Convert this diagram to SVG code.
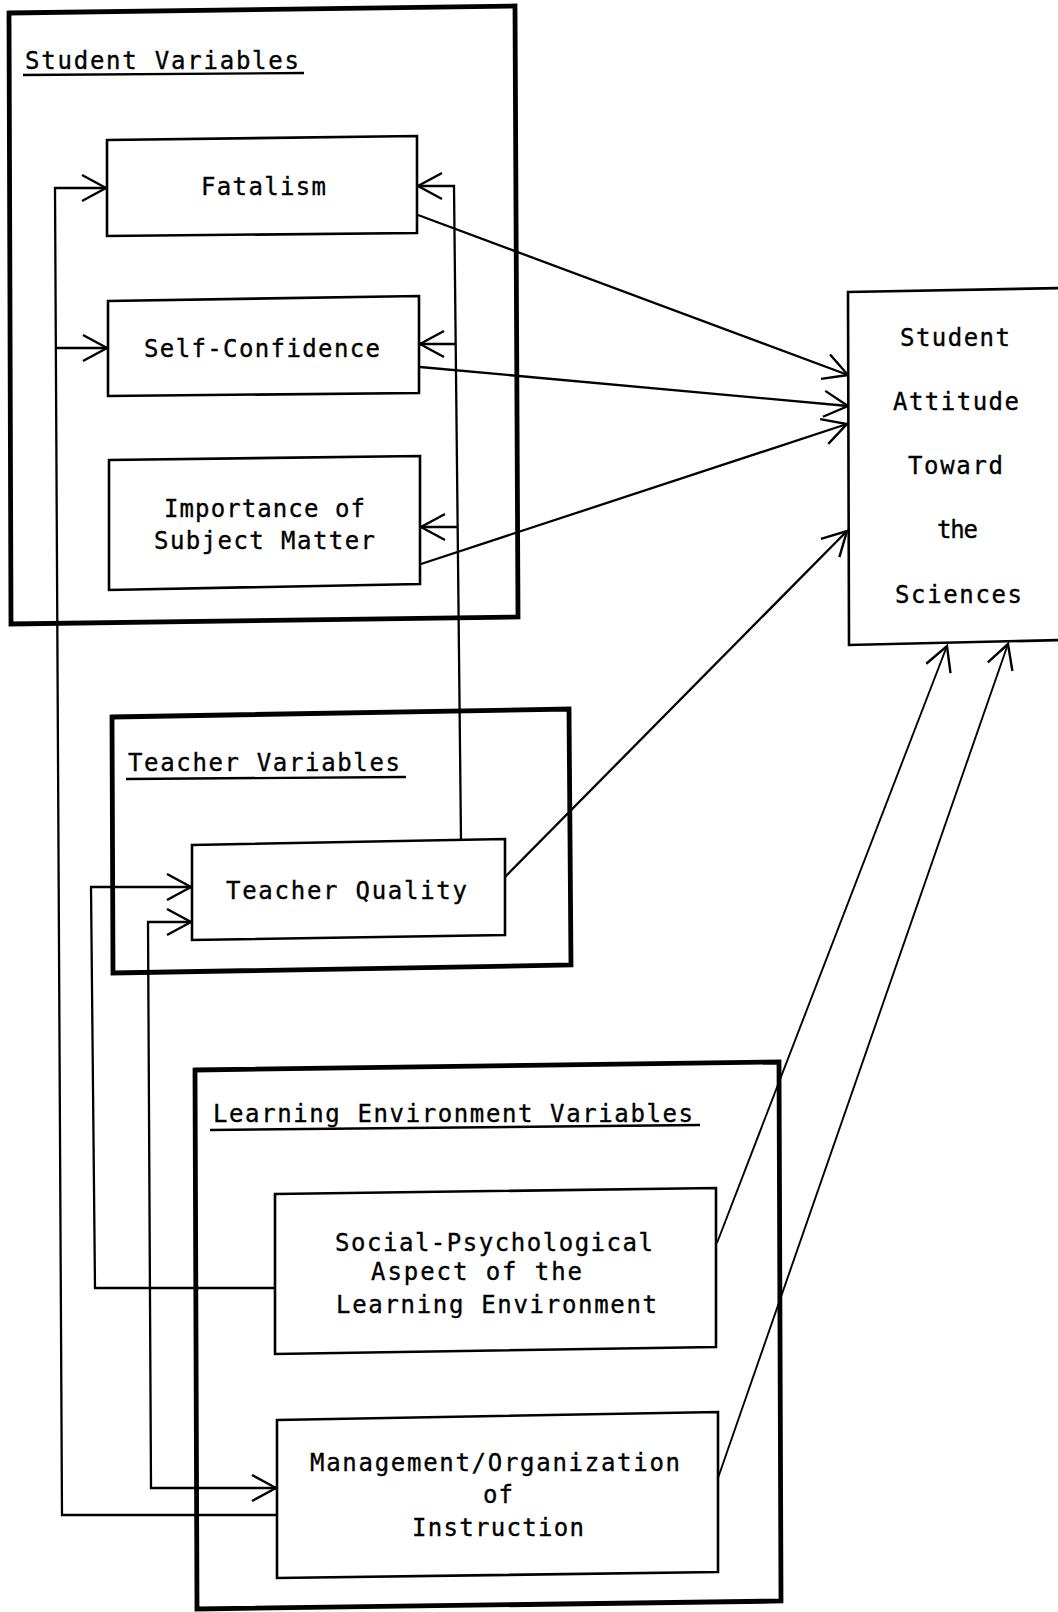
<svg xmlns="http://www.w3.org/2000/svg" width="1058" height="1612" viewBox="0 0 1058 1612">
<style>
  .bg{fill:#ffffff}
  .grp{fill:none;stroke:#000;stroke-width:4.8;stroke-linejoin:miter}
  .box{fill:#ffffff;stroke:#000;stroke-width:2.6}
  .ul{fill:none;stroke:#000;stroke-width:2.4}
  .con{fill:none;stroke:#000;stroke-width:2.3}
  .thin{fill:none;stroke:#000;stroke-width:1.9}
  text{font-family:"DejaVu Sans Mono","Liberation Mono",monospace;font-size:24px;fill:#000;stroke:#000;stroke-width:0.35}
</style>
<defs>
  <marker id="arr" markerUnits="userSpaceOnUse" viewBox="-30 -20 40 40" markerWidth="40" markerHeight="40" refX="0" refY="0" orient="auto" overflow="visible">
    <path d="M-24,-13 L0,0 L-24,13" fill="none" stroke="#000" stroke-width="2.4"/>
  </marker>
  <marker id="arrs" markerUnits="userSpaceOnUse" viewBox="-30 -20 40 40" markerWidth="40" markerHeight="40" refX="0" refY="0" orient="auto-start-reverse" overflow="visible">
    <path d="M-24,-13 L0,0 L-24,13" fill="none" stroke="#000" stroke-width="2.4"/>
  </marker>
</defs>
<rect class="bg" x="0" y="0" width="1058" height="1612"/>

<!-- group containers -->
<g id="group-student-variables">
  <polygon class="grp" points="9,13 515,6 518,617 11,624"/>
  <text x="25" y="69" textLength="274" lengthAdjust="spacing">Student Variables</text>
  <path class="ul" d="M23,75 L304,73"/>
</g>
<g id="group-teacher-variables">
  <polygon class="grp" points="112,717 569,709 571,965 113,973"/>
  <text x="128" y="771" textLength="272" lengthAdjust="spacing">Teacher Variables</text>
  <path class="ul" d="M126,779 L406,777"/>
</g>
<g id="group-learning-environment-variables">
  <polygon class="grp" points="195,1070 779,1062 781,1601 197,1609"/>
  <text x="213" y="1122" textLength="480" lengthAdjust="spacing">Learning Environment Variables</text>
  <path class="ul" d="M210,1130 L700,1125"/>
</g>

<!-- connectors -->
<g id="connectors">
  <!-- Management/Organization -> Fatalism, Self-Confidence (left loop) -->
  <path class="con" d="M277,1515 L62,1515 L55,188 L106,188" marker-end="url(#arr)"/>
  <path class="con" d="M56,348 L107,348" marker-end="url(#arr)"/>
  <!-- Teacher Quality -> Fatalism, Self-Confidence, Importance (right loop) -->
  <path class="con" d="M461,841 L454,186 L418,186" marker-end="url(#arr)"/>
  <path class="con" d="M455,344 L420,344" marker-end="url(#arr)"/>
  <path class="con" d="M457,527 L421,527" marker-end="url(#arr)"/>
  <!-- Social-Psychological -> Teacher Quality -->
  <path class="con" d="M275,1288 L95,1288 L91,887 L191,887" marker-end="url(#arr)"/>
  <!-- Teacher Quality <-> Management/Organization -->
  <path class="con" d="M191,922 L148,922 L151,1488 L276,1488" marker-start="url(#arrs)" marker-end="url(#arr)"/>
  <!-- to Student Attitude Toward the Sciences -->
  <path class="con" d="M418,215 L848,375" marker-end="url(#arr)"/>
  <path class="con" d="M420,367 L848,406" marker-end="url(#arr)"/>
  <path class="con" d="M421,564 L847,424" marker-end="url(#arr)"/>
  <path class="con" d="M505,877 L847,531" marker-end="url(#arr)"/>
  <path class="thin" d="M717,1243 L947,646" marker-end="url(#arr)"/>
  <path class="thin" d="M718,1478 L1008,644" marker-end="url(#arr)"/>
</g>

<!-- nodes -->
<g id="node-fatalism">
  <polygon class="box" points="107,140 417,136 417,233 107,236"/>
  <text x="201" y="195" textLength="125" lengthAdjust="spacing">Fatalism</text>
</g>
<g id="node-self-confidence">
  <polygon class="box" points="108,301 419,296 419,393 108,396"/>
  <text x="144" y="357" textLength="236" lengthAdjust="spacing">Self-Confidence</text>
</g>
<g id="node-importance-of-subject-matter">
  <polygon class="box" points="109,460 420,456 420,584 109,590"/>
  <text x="164" y="517" textLength="201" lengthAdjust="spacing">Importance of</text>
  <text x="154" y="549" textLength="221" lengthAdjust="spacing">Subject Matter</text>
</g>
<g id="node-teacher-quality">
  <polygon class="box" points="192,845 505,839 505,935 192,940"/>
  <text x="226" y="899" textLength="241" lengthAdjust="spacing">Teacher Quality</text>
</g>
<g id="node-social-psychological">
  <polygon class="box" points="275,1194 716,1188 716,1347 275,1354"/>
  <text x="335" y="1251" textLength="318" lengthAdjust="spacing">Social-Psychological</text>
  <text x="371" y="1280" textLength="211" lengthAdjust="spacing">Aspect of the</text>
  <text x="336" y="1313" textLength="321" lengthAdjust="spacing">Learning Environment</text>
</g>
<g id="node-management-organization">
  <polygon class="box" points="277,1420 718,1412 718,1572 277,1578"/>
  <text x="310" y="1471" textLength="370" lengthAdjust="spacing">Management/Organization</text>
  <text x="483" y="1503" textLength="30" lengthAdjust="spacing">of</text>
  <text x="412" y="1536" textLength="172" lengthAdjust="spacing">Instruction</text>
</g>
<g id="node-student-attitude">
  <polygon class="box" points="848,292 1064,288 1064,640 849,645"/>
  <text x="900" y="346" textLength="110" lengthAdjust="spacing">Student</text>
  <text x="893" y="410" textLength="126" lengthAdjust="spacing">Attitude</text>
  <text x="908" y="474" textLength="95" lengthAdjust="spacing">Toward</text>
  <text x="937" y="538" textLength="41" lengthAdjust="spacing">the</text>
  <text x="895" y="603" textLength="127" lengthAdjust="spacing">Sciences</text>
</g>
</svg>
